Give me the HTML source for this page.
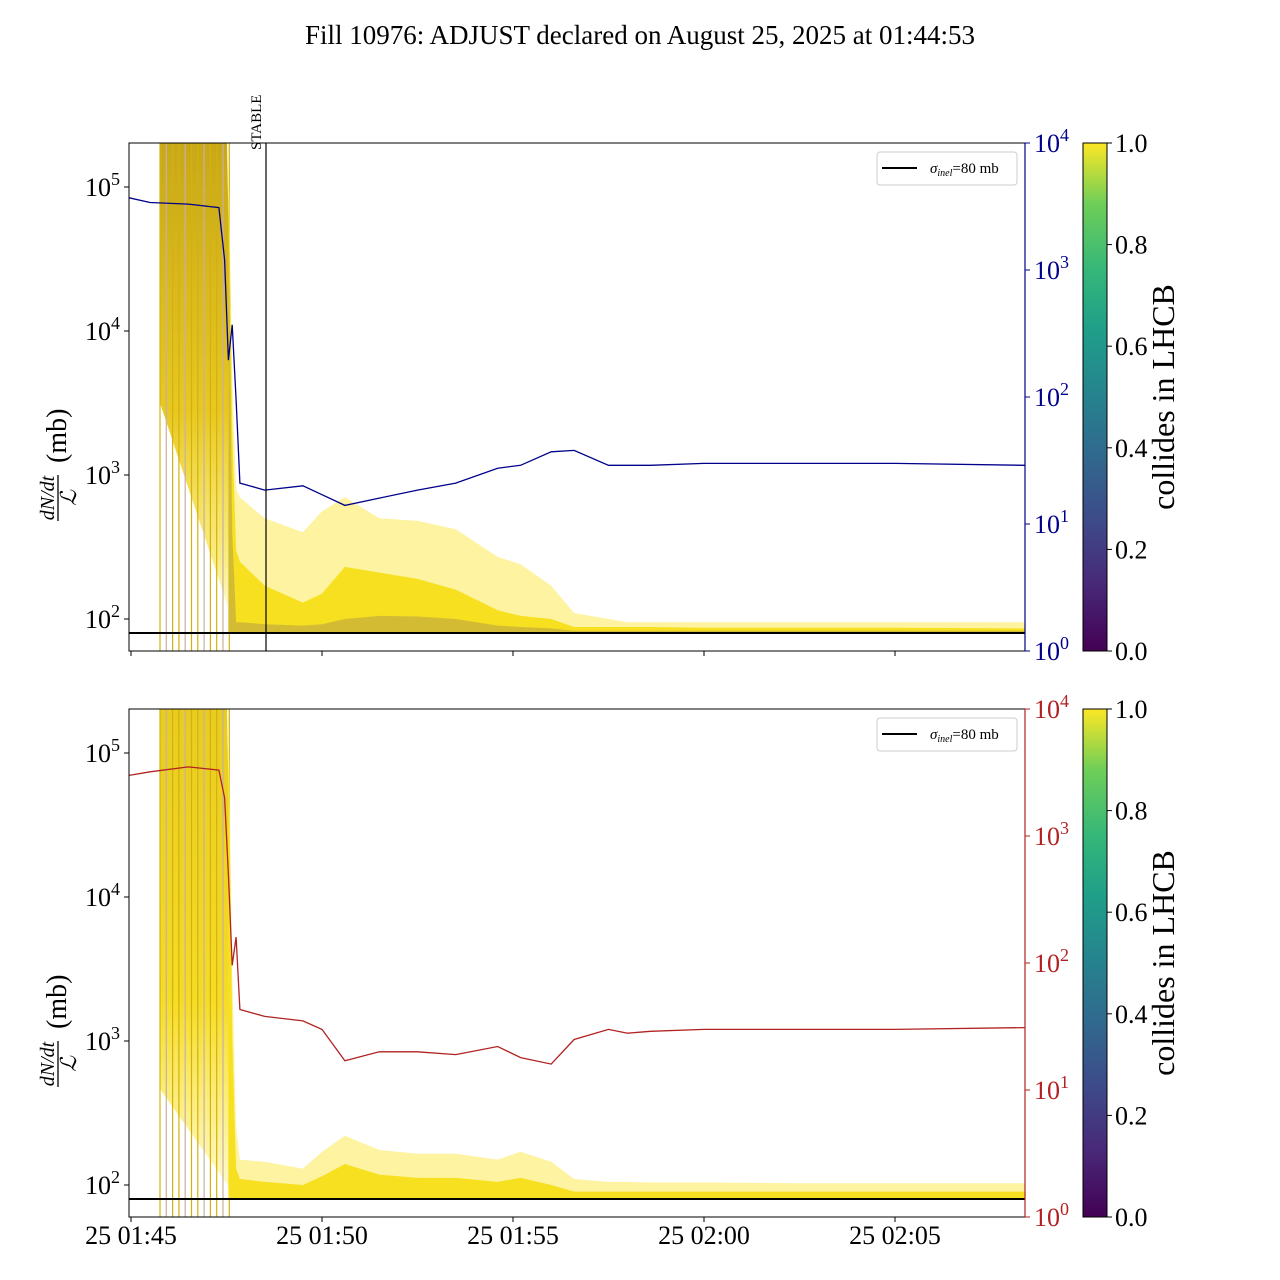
<!DOCTYPE html>
<html><head><meta charset="utf-8"><style>
body{margin:0;background:#fff}
svg{display:block;font-family:"Liberation Serif",serif}
</style></head><body>
<svg id="chart" width="1280" height="1280" viewBox="0 0 1280 1280" xmlns="http://www.w3.org/2000/svg">
<defs>
<linearGradient id="viridis" x1="0" y1="1" x2="0" y2="0">
<stop offset="0" stop-color="#440154"/><stop offset="0.13" stop-color="#482878"/><stop offset="0.25" stop-color="#3e4989"/><stop offset="0.38" stop-color="#31688e"/><stop offset="0.5" stop-color="#26828e"/><stop offset="0.63" stop-color="#1f9e89"/><stop offset="0.75" stop-color="#35b779"/><stop offset="0.88" stop-color="#6ece58"/><stop offset="1" stop-color="#fde725"/>
</linearGradient>
<linearGradient id="blockTop" x1="0" y1="0" x2="0" y2="1">
<stop offset="0" stop-color="#c8a818"/><stop offset="0.55" stop-color="#e8c820"/><stop offset="0.85" stop-color="#f5e030" stop-opacity="0.6"/><stop offset="1" stop-color="#fde725" stop-opacity="0.1"/>
</linearGradient>
<linearGradient id="blockBot" x1="0" y1="0" x2="0" y2="1">
<stop offset="0" stop-color="#e8cc20"/><stop offset="0.6" stop-color="#f5dc25"/><stop offset="1" stop-color="#fde725" stop-opacity="0.2"/>
</linearGradient>
</defs>
<text x="640" y="44" text-anchor="middle" font-size="27">Fill 10976: ADJUST declared on August 25, 2025 at 01:44:53</text>
<g id="top"></g>
<g id="bot"></g>
</svg>
<script>
// minutes after 01:45
const times = [-0.05,0.5,1.5,2.3,2.45,2.55,2.65,2.75,2.85,3.5,4.5,5.0,5.6,6.5,7.5,8.5,9.6,10.2,11.0,11.6,12.5,13.0,13.6,15,17.5,20,23.4];
const blueVals = [3700,3400,3300,3100,1200,195,370,95,21,18.5,20,17,14,16,18.5,21,27.5,29,37,38,29,29,29,30,30,30,29];
const redVals = [3000,3200,3500,3300,2000,500,96,160,43,38,35,30,17,20,20,19,22,18,16,25,30,28,29,30,30,30,31];
const topUpper = [2e5,2e5,2e5,2e5,2e5,2e5,5000,800,700,500,400,560,700,500,480,420,270,240,170,110,100,95,95,95,95,95,95];
const topMid = [2e5,2e5,2e5,2e5,2e5,2e5,2000,300,250,170,130,150,230,210,190,160,115,105,100,88,88,88,88,87,87,87,86];
const topDark = [1e5,1e5,1e5,1e5,1e5,1e5,400,95,95,92,90,92,100,105,104,100,90,88,86,83,83,83,83,83,83,83,83];
const botUpper = [2e5,2e5,2e5,2e5,2e5,2e5,3000,250,150,145,130,170,220,175,165,165,150,170,145,110,105,105,104,104,103,103,103];
const botMid = [2e5,2e5,2e5,2e5,2e5,2e5,1000,130,110,105,100,115,140,118,112,112,105,112,100,90,90,90,90,90,90,90,90];
const topTicks = [5,4,3,2];
const rightTicks = [4,3,2,1,0];
const xTickLabels = ["25 01:45","25 01:50","25 01:55","25 02:00","25 02:05"];
const cbTicks = ["0.0","0.2","0.4","0.6","0.8","1.0"];
const sigma = 80;

const NS="http://www.w3.org/2000/svg";
const X0=131, PXMIN=38.2, XL=129, XR=1025;
const xs = t => X0 + t*PXMIN;
function mk(tag, attrs, parent){const e=document.createElementNS(NS,tag);for(const k in attrs)e.setAttribute(k,attrs[k]);parent.appendChild(e);return e;}

function panel(gid, top, upper, mid, dark, lineVals, lineColor, showX, stable){
  const g=document.getElementById(gid);
  const bottom=top+508;
  const yL = v => { const e=Math.log10(v); return (top+44) + (5-e)*144; };
  const yR = v => bottom - Math.log10(v)*127;
  const clip = "clip-"+gid;
  const cp=mk('clipPath',{id:clip},g); mk('rect',{x:XL,y:top,width:XR-XL,height:508},cp);
  const pg=mk('g',{'clip-path':'url(#'+clip+')'},g);
  
  
  const blk=mk('polygon',{points:`160,${top} 227,${top} 236,${bottom-20} 160,${gid==='top'?top+260:top+380}`,fill:gid==='top'?'url(#blockTop)':'url(#blockBot)'},pg);
  
  
  for(let i=0;i<12;i++){
    const x=160+i*6.3;
    const l=mk('line',{x1:x,y1:top,x2:x,y2:bottom,stroke:i%3===1?'#c8b0a0':'#d4b010','stroke-width':1.2},pg);
    
    
  }
  const areaPath=(arr)=>{let d='';for(let i=5;i<times.length;i++)d+=(i===5?'M':'L')+xs(times[i]).toFixed(1)+','+yL(arr[i]).toFixed(1);d+=`L${xs(times[times.length-1])},${yL(sigma)}L${xs(times[5])},${yL(sigma)}Z`;return d;};
  const a1=mk('path',{d:areaPath(upper),fill:'#fdf08a',opacity:0.8},pg);
  
  
  const a2=mk('path',{d:areaPath(mid),fill:'#f6e020'},pg);
  
  
  if(dark){
    const a3=mk('path',{d:areaPath(dark),fill:'#a08850',opacity:0.4},pg);
    
    
  }
  const sl=mk('line',{x1:XL,x2:XR,y1:yL(sigma),y2:yL(sigma),stroke:'#000','stroke-width':2},pg);
  
  
  let d='';lineVals.forEach((v,i)=>{d+=(i?'L':'M')+xs(times[i]).toFixed(1)+','+yR(v).toFixed(1);});
  const ln=mk('path',{d:d,fill:'none',stroke:lineColor,'stroke-width':1.3},pg);
  
  
  if(stable){
    const s=mk('line',{x1:266,x2:266,y1:top,y2:bottom,stroke:'#000','stroke-width':1.2},g);
    
    
    const st=mk('text',{x:0,y:0,'font-size':15,transform:'translate(261,150) rotate(-90)'},g);
    st.textContent='STABLE';
    
    
  }
  const fr=mk('rect',{x:XL,y:top,width:XR-XL,height:508,fill:'none',stroke:'#000','stroke-width':1},g);
  
  
  topTicks.forEach(e=>{const y=yL(Math.pow(10,e));
    mk('line',{x1:XL-5,x2:XL,y1:y,y2:y,stroke:'#000'},g);
    const t=mk('text',{x:120,y:y+9,'font-size':26,'text-anchor':'end'},g);
    t.innerHTML='10<tspan dy="-11" font-size="18">'+e+'</tspan>';
    
    
  });
  rightTicks.forEach(e=>{const y=bottom-e*127;
    mk('line',{x1:XR,x2:XR+5,y1:y,y2:y,stroke:lineColor},g);
    const t=mk('text',{x:1034,y:y+9,'font-size':26,fill:lineColor},g);
    t.innerHTML='10<tspan dy="-11" font-size="18">'+e+'</tspan>';
    
    
  });
  mk('line',{x1:XR,x2:XR,y1:top,y2:bottom,stroke:lineColor,'stroke-width':1.2},g);
  xTickLabels.forEach((lab,i)=>{const x=xs(i*5);
    mk('line',{x1:x,x2:x,y1:bottom,y2:bottom+5,stroke:'#000'},g);
    if(showX){const t=mk('text',{x:x,y:bottom+27,'font-size':26,'text-anchor':'middle'},g);t.textContent=lab;
      
      }
  });
  const yl=mk('g',{transform:`translate(58,${top+280}) rotate(-90)`},g);
  
  
  mk('text',{x:-75,y:-4,'font-size':20,'font-style':'italic','text-anchor':'middle'},yl).textContent='dN/dt';
  mk('line',{x1:-98,x2:-52,y1:0,y2:0,stroke:'#000','stroke-width':1.3},yl);
  mk('text',{x:-75,y:18,'font-size':22,'font-style':'italic','text-anchor':'middle'},yl).textContent='ℒ';
  mk('text',{x:-40,y:8,'font-size':28},yl).textContent='(mb)';
  const lg=mk('g',{},g);
  
  
  mk('rect',{x:877,y:top+9,width:140,height:33,rx:3,fill:'#fff',stroke:'#ccc'},lg);
  mk('line',{x1:882,x2:917,y1:top+25,y2:top+25,stroke:'#000','stroke-width':2},lg);
  const lt=mk('text',{x:930,y:top+30,'font-size':15},lg);
  lt.innerHTML='<tspan font-style="italic">σ</tspan><tspan font-size="10" dy="3" font-style="italic">inel</tspan><tspan dy="-3">=80 mb</tspan>';
  const cb=mk('g',{},g);
  
  
  mk('rect',{x:1083,y:top,width:24,height:508,fill:'url(#viridis)',stroke:'#000','stroke-width':1},cb);
  cbTicks.forEach((lab,i)=>{const y=bottom-i*508/5;
    mk('line',{x1:1107,x2:1112,y1:y,y2:y,stroke:'#000'},cb);
    const t=mk('text',{x:1115,y:y+9,'font-size':26},cb);t.textContent=lab;
    
    
  });
  const ct=mk('text',{x:0,y:0,'font-size':32,'text-anchor':'middle',transform:`translate(1174,${top+254}) rotate(-90)`},cb);
  ct.textContent='collides in LHCB';
  
  
}
panel('top',143,topUpper,topMid,topDark,blueVals,'#00008b',false,true);
panel('bot',709,botUpper,botMid,null,redVals,'#b22222',true,false);
</script>
</body></html>
